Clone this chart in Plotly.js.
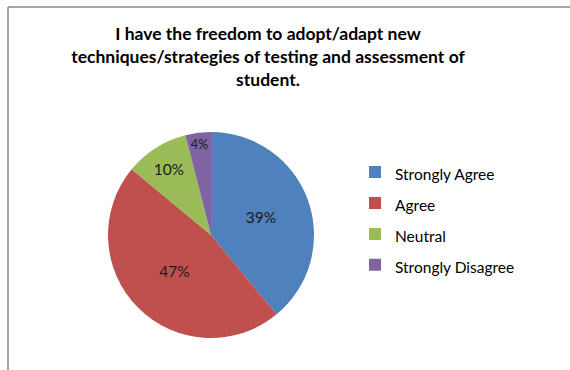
<!DOCTYPE html>
<html>
<head>
<meta charset="utf-8">
<script src="https://cdn.plot.ly/plotly-3.0.1.min.js"></script>
<style>
  html, body { margin: 0; padding: 0; background: #fff; }
  #chart { width: 570px; height: 370px; }
</style>
</head>
<body>
<div id="chart"></div>
<script>
const categories = ["Strongly Agree", "Agree", "Neutral", "Strongly Disagree"];
const values = [39, 47, 10, 4];
const colors = ["#4F81BD", "#C0504D", "#9BBB59", "#8064A2"];
const titleText = "I have the freedom to adopt/adapt new<br>techniques/strategies of testing and assessment of<br>student.";

const W = 570, H = 370;
const FONT = "Lato, 'Open Sans', sans-serif";
const trace = {
  type: "pie",
  labels: categories.map(c => '<span style="font-size:15.5px">' + c + '</span>'),
  values: values,
  marker: { colors: colors, line: { width: 0 } },
  sort: false,
  direction: "clockwise",
  rotation: 0,
  textinfo: "percent",
  textposition: "inside",
  insidetextorientation: "horizontal",
  textfont: { family: FONT, size: 15.5, color: "#1a1a1a" },
  hoverinfo: "label+percent",
  domain: { x: [108 / W, 314 / W], y: [1 - 338 / H, 1 - 132 / H] }
};

const layout = {
  width: W, height: H,
  margin: { l: 0, r: 0, t: 0, b: 0 },
  paper_bgcolor: "#ffffff",
  showlegend: true,
  title: {
    text: titleText,
    font: { family: FONT, size: 17.5, color: "#000", weight: "bold" },
    x: 268 / W, xanchor: "center", xref: "paper",
    y: 1 - 40 / H, yanchor: "top", yref: "container"
  },
  legend: {
    x: 355 / W, xanchor: "left",
    y: 1 - 151.5 / H, yanchor: "top",
    font: { family: FONT, size: 21.5, color: "#000" },
    bgcolor: "rgba(0,0,0,0)",
    traceorder: "normal"
  },
  shapes: [
    { type: "line", xref: "paper", yref: "paper", x0: 8 / W, x1: 1, y0: 1 - 7 / H, y1: 1 - 7 / H, line: { color: "#888", width: 1.5 } },
    { type: "line", xref: "paper", yref: "paper", x0: 8 / W, x1: 8 / W, y0: 0, y1: 1 - 7 / H, line: { color: "#888", width: 1.5 } }
  ]
};

Plotly.newPlot("chart", [trace], layout, { displayModeBar: false, staticPlot: true });
</script>
</body>
</html>
